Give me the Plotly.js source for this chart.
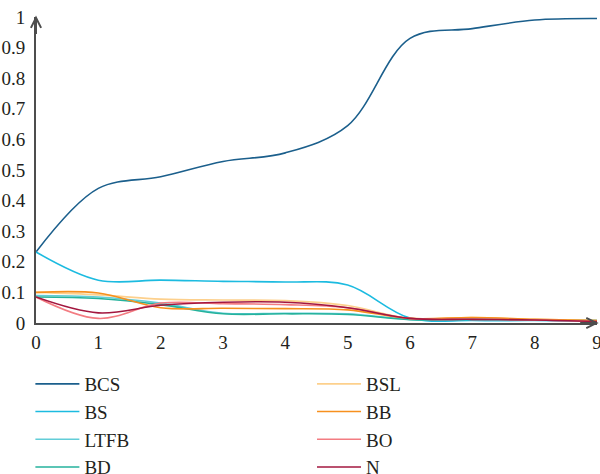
<!DOCTYPE html>
<html>
<head>
<meta charset="utf-8">
<script src="https://cdn.plot.ly/plotly-3.0.1.min.js"></script>
<style>html,body{margin:0;padding:0;background:#fff;}#chart{width:600px;height:474px;}</style>
</head>
<body>
<div id="chart"></div>
<script>
var xValues = [0, 1, 2, 3, 4, 5, 6, 7, 8, 9];
var xTickLabels = ['0', '1', '2', '3', '4', '5', '6', '7', '8', '9'];
var yTickValues = [0, 0.1, 0.2, 0.3, 0.4, 0.5, 0.6, 0.7, 0.8, 0.9, 1];
var yTickLabels = ['0', '0.1', '0.2', '0.3', '0.4', '0.5', '0.6', '0.7', '0.8', '0.9', '1'];

var BCS  = [0.232, 0.440, 0.478, 0.528, 0.556, 0.645, 0.930, 0.962, 0.990, 0.995];
var BS   = [0.232, 0.140, 0.140, 0.136, 0.134, 0.124, 0.016, 0.008, 0.008, 0.005];
var LTFB = [0.090, 0.085, 0.065, 0.032, 0.032, 0.030, 0.012, 0.012, 0.010, 0.008];
var BD   = [0.085, 0.080, 0.060, 0.030, 0.030, 0.028, 0.011, 0.012, 0.010, 0.008];
var BSL  = [0.100, 0.092, 0.078, 0.075, 0.073, 0.057, 0.015, 0.018, 0.012, 0.008];
var BB   = [0.100, 0.098, 0.050, 0.048, 0.047, 0.043, 0.015, 0.018, 0.012, 0.008];
var BO   = [0.085, 0.015, 0.065, 0.063, 0.060, 0.050, 0.015, 0.012, 0.010, 0.005];
var N    = [0.085, 0.033, 0.058, 0.068, 0.068, 0.050, 0.015, 0.012, 0.010, 0.005];

var seriesNames = ['BCS', 'BS', 'LTFB', 'BD', 'BSL', 'BB', 'BO', 'N'];
var seriesValues = [BCS, BS, LTFB, BD, BSL, BB, BO, N];
var seriesColors = ['#1b5f8c', '#1cbbe0', '#62cdd8', '#25b29c', '#fdd08c', '#f7901e', '#f37c82', '#a3173f'];
var seriesLegend = ['legend', 'legend', 'legend', 'legend', 'legend2', 'legend2', 'legend2', 'legend2'];

var traces = seriesNames.map(function (name, i) {
  return {
    x: xValues,
    y: seriesValues[i],
    name: name,
    type: 'scatter',
    mode: 'lines',
    legend: seriesLegend[i],
    legendgroup: name,
    line: {color: seriesColors[i], width: 1.6, shape: 'spline', smoothing: 1}
  };
});

var FONT = 'Liberation Serif';
var legendCommon = {
  orientation: 'v',
  xref: 'paper',
  yref: 'container',
  yanchor: 'top',
  y: 0.23,
  xanchor: 'left',
  bgcolor: 'rgba(0,0,0,0)',
  font: {family: FONT, size: 19, color: '#231f20'},
  tracegroupgap: 0,
  itemwidth: 44,
  traceorder: 'grouped'
};

var layout = {
  width: 600,
  height: 474,
  margin: {l: 36, r: 3, t: 17, b: 151, autoexpand: false},
  paper_bgcolor: '#ffffff',
  plot_bgcolor: '#ffffff',
  font: {family: FONT, size: 19, color: '#231f20'},
  xaxis: {
    range: [0, 9],
    tickvals: xValues,
    ticktext: xTickLabels,
    showgrid: false,
    zeroline: false,
    showline: true,
    linecolor: '#4d4d4d',
    linewidth: 2,
    ticks: '',
    ticklabelstandoff: 1,
    ticklabeloverflow: 'allow',
    automargin: false,
    fixedrange: true
  },
  yaxis: {
    range: [0, 1],
    tickvals: yTickValues,
    ticktext: yTickLabels,
    showgrid: false,
    zeroline: false,
    showline: true,
    linecolor: '#4d4d4d',
    linewidth: 2,
    ticks: '',
    ticklabelstandoff: 5,
    ticklabeloverflow: 'allow',
    automargin: false,
    fixedrange: true
  },
  legend: Object.assign({}, legendCommon, {x: -0.01}),
  legend2: Object.assign({}, legendCommon, {x: 0.492}),
  showlegend: true,
  annotations: [
    {xref: 'paper', yref: 'paper', x: 0, y: 1.005, ax: 0, ay: 20, axref: 'pixel', ayref: 'pixel',
     showarrow: true, arrowhead: 5, arrowsize: 1, arrowwidth: 2, arrowcolor: '#4d4d4d', text: ''},
    {xref: 'paper', yref: 'paper', x: 1.003, y: 0, ax: -20, ay: 0,
     showarrow: true, arrowhead: 5, arrowsize: 1, arrowwidth: 2, arrowcolor: '#4d4d4d', text: ''}
  ]
};

Plotly.newPlot('chart', traces, layout, {displayModeBar: false, staticPlot: true});
</script>
</body>
</html>
